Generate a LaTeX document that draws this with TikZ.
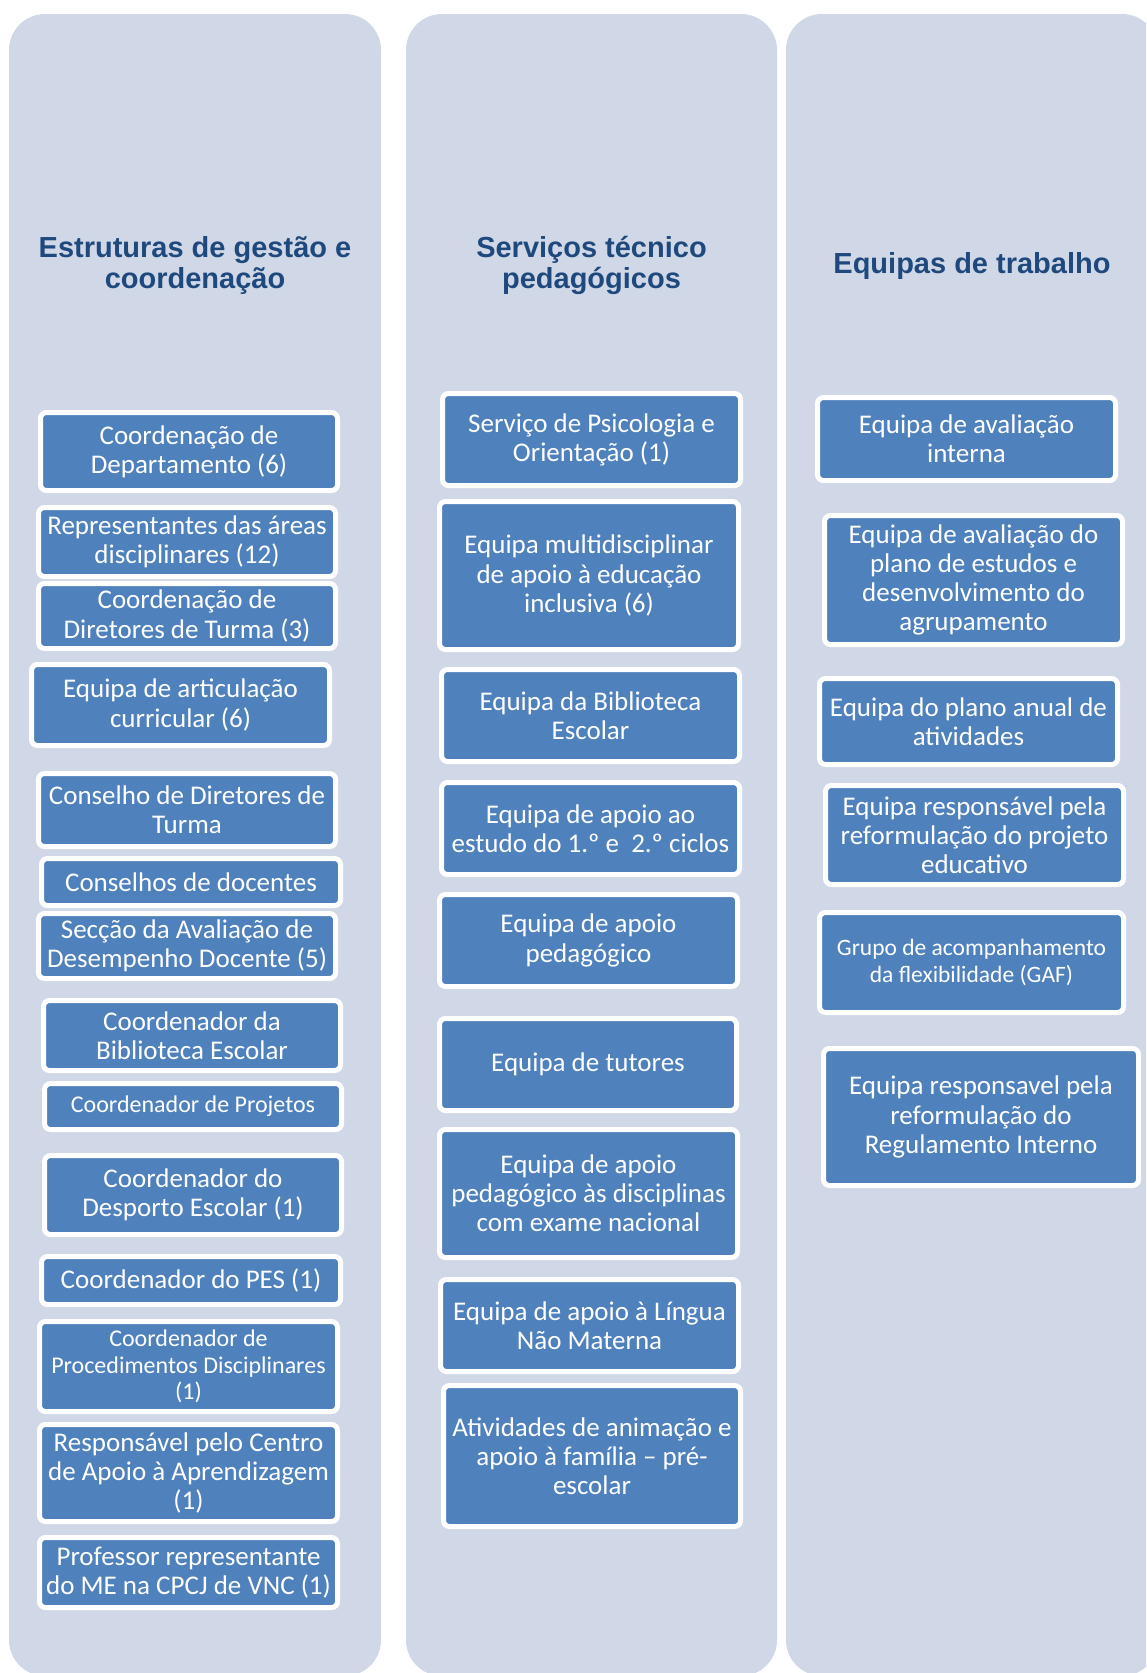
\documentclass[tikz,border=0pt]{standalone}
\usepackage{fontspec}
\setmainfont{Carlito}
\newfontfamily\titlefont{Liberation Sans}
\definecolor{colfill}{HTML}{D0D8E8}
\definecolor{boxblue}{HTML}{4F81BD}
\definecolor{titleblue}{HTML}{1F497D}
\begin{document}
\begin{tikzpicture}[x=1pt,y=-1pt,
  colbg/.style={fill=colfill, draw=none, rounded corners=36pt},
  boxnode/.style={draw=white, line width=5pt, fill=boxblue, rounded corners=6pt, text=white, align=center, inner sep=0pt, font=\fontsize{27}{29.2}\selectfont},
  smalltext/.style={font=\fontsize{24}{26.3}\selectfont},
  smallertext/.style={font=\fontsize{23.5}{26.5}\selectfont},
  coltitle/.style={text=titleblue, align=center, inner sep=0pt, font=\titlefont\bfseries\fontsize{29}{31}\selectfont}]
\useasboundingbox (0,0) rectangle (1146,1673);
\clip (0,0) rectangle (1146,1673);
\fill[white] (0,0) rectangle (1146,1673);
% columns
\path[colbg] (9,14) rectangle (381,1676);
\path[colbg] (406,14) rectangle (777,1676);
\path[colbg] (786,14) rectangle (1158,1676);
% titles
\node[coltitle] (t1) at (195,265.5) {Estruturas de gestão e\\coordenação};
\node[coltitle] (t2) at (591.5,265.5) {Serviços técnico\\pedagógicos};
\node[coltitle] (t3) at (972,266) {Equipas de trabalho};
% column 1
\node[boxnode, minimum width=297, minimum height=78] (a1) at (189,451.5) {Coordenação de\\Departamento (6)};
\node[boxnode, minimum width=297, minimum height=69] (a2) at (187,542) {Representantes das áreas\\disciplinares (12)};
\node[boxnode, minimum width=297, minimum height=65] (a3) at (187,616) {Coordenação de\\Diretores de Turma (3)};
\node[boxnode, minimum width=298, minimum height=81] (a4) at (180.5,705) {Equipa de articulação\\curricular (6)};
\node[boxnode, minimum width=297, minimum height=73] (a5) at (187,810) {Conselho de Diretores de\\Turma};
\node[boxnode, minimum width=299, minimum height=47] (a6) at (191,882) {Conselhos de docentes};
\node[boxnode, minimum width=297, minimum height=65] (a7) at (187,946) {Secção da Avaliação de\\Desempenho Docente (5)};
\node[boxnode, minimum width=297, minimum height=70] (a8) at (192,1035.5) {Coordenador da\\Biblioteca Escolar};
\node[boxnode, smalltext, minimum width=297, minimum height=46] (a9) at (193,1106.5) {Coordenador de Projetos};
\node[boxnode, minimum width=297, minimum height=79] (a10) at (193,1195) {Coordenador do\\Desporto Escolar (1)};
\node[boxnode, minimum width=299, minimum height=48] (a11) at (191,1280.5) {Coordenador do PES (1)};
\node[boxnode, smalltext, minimum width=298, minimum height=90] (a12) at (188.5,1366.5) {Coordenador de\\Procedimentos Disciplinares\\(1)};
\node[boxnode, minimum width=298, minimum height=97] (a13) at (188.5,1473) {Responsável pelo Centro\\de Apoio à Aprendizagem\\(1)};
\node[boxnode, minimum width=298, minimum height=70] (a14) at (188.5,1572.5) {Professor representante\\do ME na CPCJ de VNC (1)};
% column 2
\node[boxnode, minimum width=298, minimum height=92] (b1) at (591.5,439.5) {Serviço de Psicologia e\\Orientação (1)};
\node[boxnode, minimum width=299, minimum height=148] (b2) at (589,575.5) {Equipa multidisciplinar\\de apoio à educação\\inclusiva (6)};
\node[boxnode, minimum width=298, minimum height=92] (b3) at (590.5,715.5) {Equipa da Biblioteca\\Escolar};
\node[boxnode, minimum width=298, minimum height=92] (b4) at (590.5,828.5) {Equipa de apoio ao\\estudo do 1.º e \ 2.º ciclos};
\node[boxnode, minimum width=298, minimum height=92] (b5) at (588.5,940.5) {Equipa de apoio\\pedagógico};
\node[boxnode, minimum width=297, minimum height=92] (b6) at (588,1064.5) {Equipa de tutores};
\node[boxnode, minimum width=298, minimum height=128] (b7) at (588.5,1193.5) {Equipa de apoio\\pedagógico às disciplinas\\com exame nacional};
\node[boxnode, minimum width=298, minimum height=92] (b8) at (589.5,1325.5) {Equipa de apoio à Língua\\Não Materna};
\node[boxnode, minimum width=297, minimum height=141] (b9) at (592,1456) {Atividades de animação e\\apoio à família – pré-\\escolar};
% column 3
\node[boxnode, minimum width=298, minimum height=83] (c1) at (966.5,439) {Equipa de avaliação\\interna};
\node[boxnode, minimum width=298, minimum height=129] (c2) at (973.5,580) {Equipa de avaliação do\\plano de estudos e\\desenvolvimento do\\agrupamento};
\node[boxnode, minimum width=298, minimum height=86] (c3) at (968.5,721.5) {Equipa do plano anual de\\atividades};
\node[boxnode, minimum width=298, minimum height=99] (c4) at (974.5,835) {Equipa responsável pela\\reformulação do projeto\\educativo};
\node[boxnode, smallertext, minimum width=304, minimum height=100] (c5) at (971.5,962.5) {Grupo de acompanhamento\\da flexibilidade (GAF)};
\node[boxnode, minimum width=315, minimum height=137] (c6) at (981,1117) {Equipa responsavel pela\\reformulação do\\Regulamento Interno};
\end{tikzpicture}
\end{document}
